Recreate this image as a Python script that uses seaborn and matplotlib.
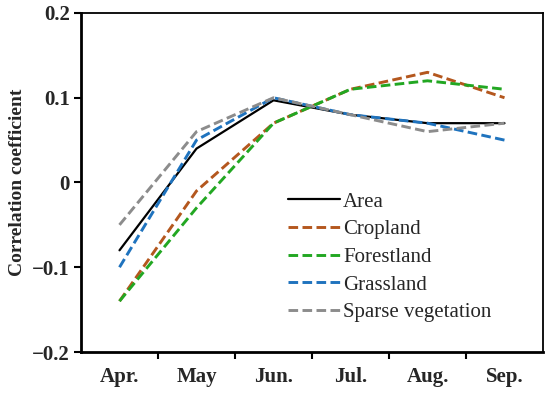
import matplotlib
matplotlib.use("Agg")
import matplotlib.pyplot as plt
import seaborn as sns
import pandas as pd
import numpy as np

months = ["Apr.", "May", "Jun.", "Jul.", "Aug.", "Sep."]
area = [-0.08, 0.04, 0.097, 0.08, 0.07, 0.07]
cropland = [-0.14, -0.01, 0.07, 0.11, 0.13, 0.10]
forestland = [-0.14, -0.03, 0.07, 0.11, 0.12, 0.11]
grassland = [-0.10, 0.05, 0.10, 0.08, 0.07, 0.05]
sparse = [-0.05, 0.06, 0.10, 0.08, 0.06, 0.07]
y_ticks = [-0.2, -0.1, 0, 0.1, 0.2]
y_ticklabels = ["\u22120.2", "\u22120.1", "0", "0.1", "0.2"]

DASH = (3.3, 1.5)
series = [
    ("Area", area, "#000000", None),
    ("Cropland", cropland, "#B4571E", DASH),
    ("Forestland", forestland, "#22A722", DASH),
    ("Grassland", grassland, "#1F73BE", DASH),
    ("Sparse vegetation", sparse, "#8C8C8C", DASH),
]

sns.set_style("white")
plt.rcParams["font.family"] = ["Liberation Serif", "DejaVu Serif"]

fig = plt.figure(figsize=(5.5, 3.96), dpi=100)
ax = fig.add_axes([81/550, 1-352/396, 462/550, 339/396])

x = np.arange(len(months))
for name, vals, col, dash in series:
    df = pd.DataFrame({"x": x, "y": vals})
    if dash is None:
        sns.lineplot(data=df, x="x", y="y", color=col, linewidth=1.6, ax=ax, label=name)
    else:
        sns.lineplot(data=df, x="x", y="y", color=col, linewidth=2.1, ax=ax, label=name)
        ax.lines[-1].set_dashes(dash)

ax.set_xlim(-0.5, len(months) - 0.5)
ax.set_ylim(-0.2, 0.2)
ax.set_xticks(x)
ax.set_xticklabels(months, fontsize=15, fontweight="bold")
ax.set_xticks(np.arange(0.5, len(months) - 0.5, 1), minor=True)
ax.tick_params(axis="x", which="major", length=0, pad=11)
ax.tick_params(axis="x", which="minor", length=5, width=1.5, direction="out", color="black", bottom=True)
ax.set_yticks(y_ticks)
ax.set_yticklabels(y_ticklabels, fontsize=15, fontweight="bold")
ax.tick_params(axis="y", length=5, width=1.5, direction="out", color="black", left=True, pad=3)
ax.set_xlabel("")
ax.set_ylabel("Correlation coefficient", fontsize=14, fontweight="bold")
ax.yaxis.set_label_coords(-0.118, 0.5)

for s in ["left", "bottom"]:
    ax.spines[s].set_linewidth(2.0)
    ax.spines[s].set_color("black")
for s in ["top", "right"]:
    ax.spines[s].set_linewidth(1.3)
    ax.spines[s].set_color("black")

leg = ax.legend(loc="upper left", bbox_to_anchor=(288/550, 1-192/396), bbox_transform=fig.transFigure,
                frameon=False, fontsize=15, handlelength=2.5, handletextpad=0.15,
                labelspacing=0.39, borderpad=0, borderaxespad=0)
for h, (name, vals, col, dash) in zip(leg.get_lines(), series):
    if dash is not None:
        h.set_dashes(dash)

fig.savefig("out.png", dpi=100)
